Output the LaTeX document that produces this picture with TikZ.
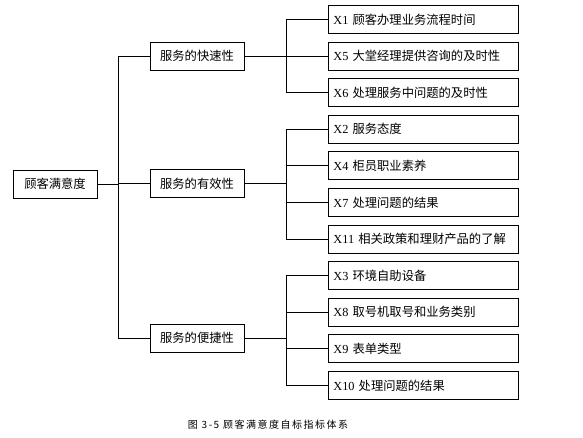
\documentclass[tikz,border=0pt]{standalone}
\usepackage{fontspec}
\setmainfont{Liberation Serif}
\newfontfamily\cjk{Noto Sans CJK SC}
\newfontfamily\capfont[LetterSpace=15]{Noto Sans CJK SC}
\usetikzlibrary{positioning}

\newcommand{\xtag}[2]{X#1 {\cjk #2}}

\begin{document}
\begin{tikzpicture}[
  x=1pt, y=-1pt,
  node distance=7.7pt,
  every node/.style={font=\fontsize{12.3}{14}\selectfont},
  rootbox/.style={draw, line width=0.9pt, minimum width=84pt, minimum height=28pt,
                  inner sep=0pt, font=\cjk\fontsize{12.3}{14}\selectfont},
  midbox/.style={draw, line width=0.9pt, minimum width=94pt, minimum height=28pt,
                 inner sep=0pt, font=\cjk\fontsize{12.3}{14}\selectfont},
  leaf/.style={draw, line width=0.9pt, minimum height=28pt, text width=180pt,
               inner xsep=5pt, inner ysep=0pt, align=left},
  link/.style={line width=0.9pt}
]
\useasboundingbox (0,0) rectangle (583,437);

% Level 0 - goal
\node[rootbox] (root) at (55,184) {顾客满意度};

% Level 1 - criteria
\node[midbox] (quick) at (197,56) {服务的快速性};
\node[midbox] (effect) at (197,183.5) {服务的有效性};
\node[midbox] (handy) at (197,338) {服务的便捷性};

% Level 2 - indicators
\node[leaf, anchor=north west] (x1) at (328,5) {\xtag{1}{顾客办理业务流程时间}};
\node[leaf, below=of x1] (x5) {\xtag{5}{大堂经理提供咨询的及时性}};
\node[leaf, below=of x5] (x6) {\xtag{6}{处理服务中问题的及时性}};
\node[leaf, below=of x6] (x2) {\xtag{2}{服务态度}};
\node[leaf, below=of x2] (x4) {\xtag{4}{柜员职业素养}};
\node[leaf, below=of x4] (x7) {\xtag{7}{处理问题的结果}};
\node[leaf, below=of x7] (x11) {\xtag{11}{相关政策和理财产品的了解}};
\node[leaf, below=of x11] (x3) {\xtag{3}{环境自助设备}};
\node[leaf, below=of x3] (x8) {\xtag{8}{取号机取号和业务类别}};
\node[leaf, below=of x8] (x9) {\xtag{9}{表单类型}};
\node[leaf, below=of x9] (x10) {\xtag{10}{处理问题的结果}};

% Bus lines
\coordinate (trunk) at (118,0);
\coordinate (bus) at (286,0);

% Connections
\draw[link] (root.east) -- (root.east -| trunk);
\draw[link] (quick.west) -- (quick.west -| trunk) -- (handy.west -| trunk) -- (handy.west);
\draw[link] (effect.west) -- (effect.west -| trunk);
\foreach \leaf in {x1,x5,x6}
  \draw[link] (quick.east) -- (quick.east -| bus) |- (\leaf.west);
\foreach \leaf in {x2,x4,x7,x11}
  \draw[link] (effect.east) -- (effect.east -| bus) |- (\leaf.west);
\foreach \leaf in {x3,x8,x9,x10}
  \draw[link] (handy.east) -- (handy.east -| bus) |- (\leaf.west);

% Caption
\node[font=\capfont\fontsize{10}{12}\selectfont] (caption) at (268,425)
  {图\ 3-5\ 顾客满意度自标指标体系};

\end{tikzpicture}
\end{document}
